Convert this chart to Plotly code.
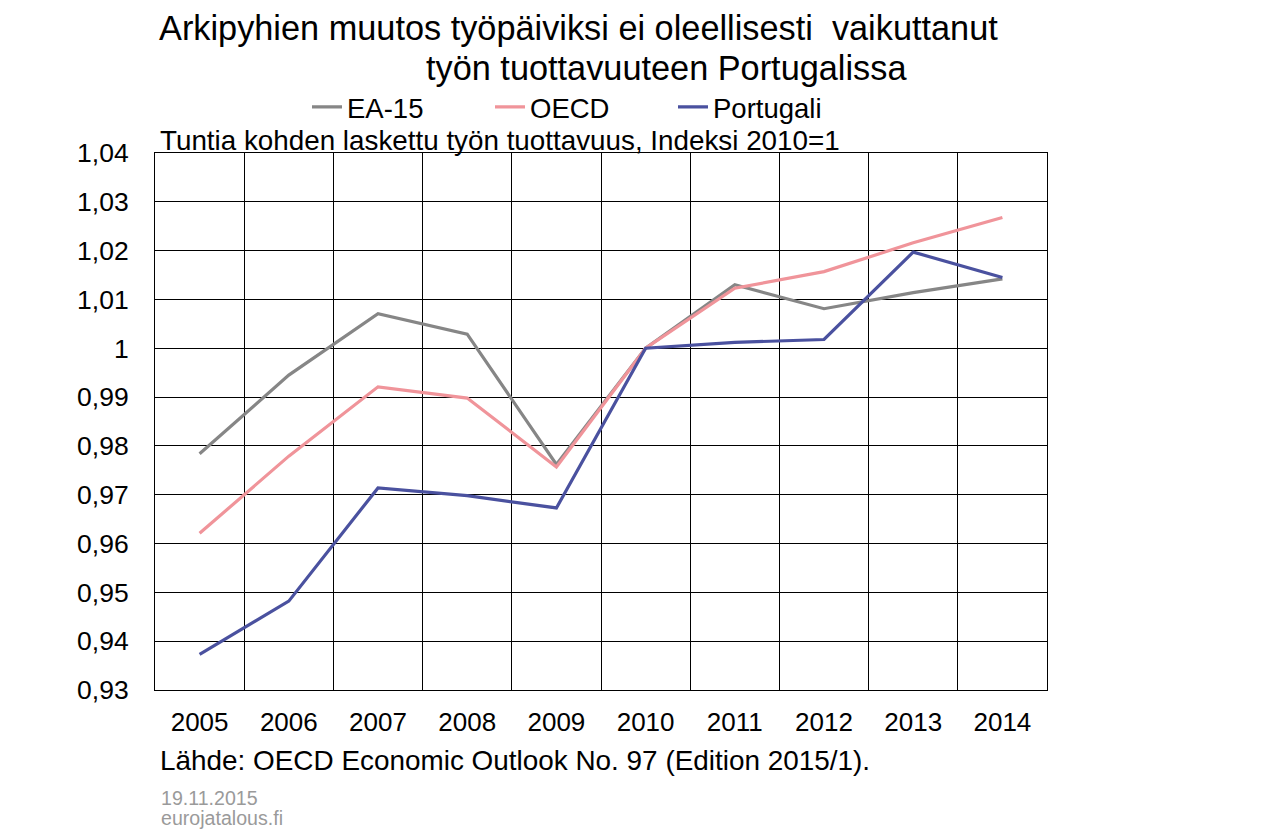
import plotly.graph_objects as go

years = ["2005", "2006", "2007", "2008", "2009", "2010", "2011", "2012", "2013", "2014"]
ea15 = [0.9784, 0.9945, 1.0071, 1.0029, 0.9762, 1.0, 1.0130, 1.0081, 1.0114, 1.0142]
oecd = [0.9621, 0.9779, 0.9921, 0.9898, 0.9757, 1.0, 1.0123, 1.0157, 1.0216, 1.0268]
portugal = [0.9373, 0.9482, 0.9714, 0.9698, 0.9673, 1.0, 1.0012, 1.0018, 1.0197, 1.0145]
ytickvals = [0.93, 0.94, 0.95, 0.96, 0.97, 0.98, 0.99, 1.0, 1.01, 1.02, 1.03, 1.04]
yticktext = ["0,93", "0,94", "0,95", "0,96", "0,97", "0,98", "0,99", "1", "1,01", "1,02", "1,03", "1,04"]

FONT = "Liberation Sans, Arial, sans-serif"

# page has an 8px body margin; figure sized to fit the window
W, H = 1261, 822
ML, MT = 147, 145
PW, PH = 892, 537
MR, MB = W - ML - PW, H - MT - PH

# reference-pixel helpers (plot area in the reference: x 155..1047, y 153..690)
RL, RB = 155, 690


def px(x):
    return (x - RL) / PW


def py(y):
    return (RB - y) / PH


fig = go.Figure()
fig.add_trace(go.Scatter(x=years, y=ea15, mode="lines", name="EA-15",
                         line=dict(color="#868686", width=3.2)))
fig.add_trace(go.Scatter(x=years, y=oecd, mode="lines", name="OECD",
                         line=dict(color="#F0949A", width=3.2)))
fig.add_trace(go.Scatter(x=years, y=portugal, mode="lines", name="Portugali",
                         line=dict(color="#4A519F", width=3.2)))

fig.update_layout(
    width=W, height=H,
    margin=dict(l=ML, r=MR, t=MT, b=MB),
    paper_bgcolor="white", plot_bgcolor="white",
    font=dict(family=FONT, size=26, color="black"),
    showlegend=True,
    legend=dict(orientation="h", x=px(307), xanchor="left", y=py(107), yanchor="middle",
                font=dict(size=27.5), entrywidth=138, entrywidthmode="pixels",
                bgcolor="rgba(0,0,0,0)", borderwidth=0),
    xaxis=dict(type="category", tickson="boundaries", showgrid=True, gridcolor="black",
               gridwidth=1, showline=True, linecolor="black", linewidth=1, mirror=True,
               ticks="", tickfont=dict(size=26), range=[-0.5, 9.5],
               ticklabelstandoff=9),
    yaxis=dict(range=[0.93, 1.04], tickvals=ytickvals, ticktext=yticktext,
               showgrid=True, gridcolor="black", gridwidth=1, showline=True,
               linecolor="black", linewidth=1, mirror=True, ticks="",
               tickfont=dict(size=26.5), zeroline=False, ticklabelstandoff=20),
)

fig.add_annotation(text="Arkipyhien muutos työpäiviksi ei oleellisesti  vaikuttanut",
                   x=px(157), y=py(28), xref="paper", yref="paper", xanchor="left",
                   yanchor="middle", showarrow=False, font=dict(size=34.3))
fig.add_annotation(text="työn tuottavuuteen Portugalissa",
                   x=px(424), y=py(68), xref="paper", yref="paper", xanchor="left",
                   yanchor="middle", showarrow=False, font=dict(size=34.3))
fig.add_annotation(text="Tuntia kohden laskettu työn tuottavuus, Indeksi 2010=1",
                   x=px(158), y=py(140), xref="paper", yref="paper", xanchor="left",
                   yanchor="middle", showarrow=False, font=dict(size=27.8))
fig.add_annotation(text="Lähde: OECD Economic Outlook No. 97 (Edition 2015/1).",
                   x=px(158), y=py(760), xref="paper", yref="paper", xanchor="left",
                   yanchor="middle", showarrow=False, font=dict(size=27.9))
fig.add_annotation(text="19.11.2015",
                   x=px(159), y=py(798), xref="paper", yref="paper", xanchor="left",
                   yanchor="middle", showarrow=False, font=dict(size=19.6, color="#9a9a9a"))
fig.add_annotation(text="eurojatalous.fi",
                   x=px(159), y=py(818), xref="paper", yref="paper", xanchor="left",
                   yanchor="middle", showarrow=False, font=dict(size=19.6, color="#9a9a9a"))

fig.write_html("out.html")
